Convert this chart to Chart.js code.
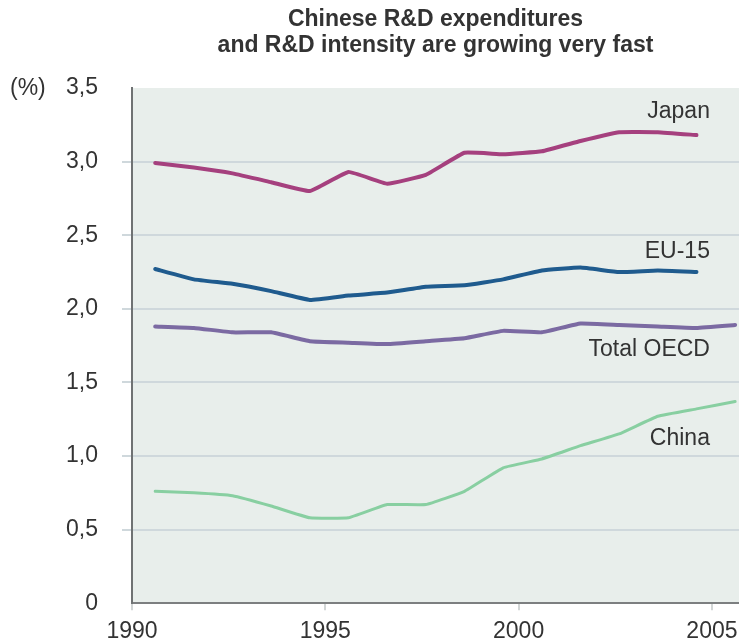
<!DOCTYPE html>
<html>
<head>
<meta charset="utf-8">
<script src="https://cdn.jsdelivr.net/npm/chart.js@4/dist/chart.umd.min.js"></script>
<style>
  html, body { margin: 0; padding: 0; background: #fff; }
  #wrap { width: 739px; height: 641px; }
</style>
</head>
<body>
<div id="wrap"><canvas id="rdChart"></canvas></div>
<script>
// R&D intensity, % of GDP
const years = [1990, 1991, 1992, 1993, 1994, 1995, 1996, 1997, 1998, 1999, 2000, 2001, 2002, 2003, 2004, 2005];
const japan = [2.99, 2.96, 2.92, 2.86, 2.80, 2.93, 2.85, 2.91, 3.06, 3.05, 3.07, 3.14, 3.20, 3.20, 3.18];
const eu15  = [2.27, 2.20, 2.17, 2.12, 2.06, 2.09, 2.11, 2.15, 2.16, 2.20, 2.26, 2.28, 2.25, 2.26, 2.25];
const oecd  = [1.88, 1.87, 1.84, 1.84, 1.78, 1.77, 1.76, 1.78, 1.80, 1.85, 1.84, 1.90, 1.89, 1.88, 1.87, 1.89];
const china = [0.76, 0.75, 0.73, 0.66, 0.58, 0.58, 0.67, 0.67, 0.76, 0.92, 0.98, 1.07, 1.15, 1.27, 1.32, 1.37];
const yTicks = [0, 0.5, 1.0, 1.5, 2.0, 2.5, 3.0, 3.5];
const xTicks = [1990, 1995, 2000, 2005];

// yearly values sit a bit right of their year tick
const POINT_SHIFT = 0.6;
function toPoints(values) {
  return values.map((v, i) => ({ x: years[i] + POINT_SHIFT, y: v }));
}

const FONT = "'Liberation Sans', Arial, sans-serif";
const TEXT = "#333333";

// line name tags, right-aligned at the 2005 tick
const seriesTags = [
  { text: "Japan", y: 3.34 },
  { text: "EU-15", y: 2.39 },
  { text: "Total OECD", y: 1.72 },
  { text: "China", y: 1.115 }
];

const plotBackground = {
  id: "plotBackground",
  beforeDraw(chart) {
    const { ctx, chartArea: a } = chart;
    ctx.save();
    ctx.fillStyle = "#e8eeeb";
    ctx.fillRect(a.left, a.top, a.right - a.left, a.bottom - a.top);
    ctx.restore();
  }
};

const textExtras = {
  id: "textExtras",
  afterDraw(chart) {
    const { ctx, scales } = chart;
    ctx.save();
    ctx.fillStyle = TEXT;
    ctx.font = "23px " + FONT;
    ctx.textBaseline = "middle";
    ctx.textAlign = "left";
    ctx.fillText("(%)", 10, scales.y.getPixelForValue(3.5) + 1);
    ctx.textAlign = "right";
    const xr = scales.x.getPixelForValue(2005) - 2;
    seriesTags.forEach(t => {
      ctx.fillText(t.text, xr, scales.y.getPixelForValue(t.y));
    });
    ctx.restore();
  }
};

function line(label, values, color, width) {
  return {
    label: label,
    data: toPoints(values),
    borderColor: color,
    borderWidth: width,
    pointRadius: 0,
    tension: 0.1,
    borderCapStyle: "round",
    borderJoinStyle: "round",
    fill: false
  };
}

new Chart(document.getElementById("rdChart"), {
  type: "line",
  data: {
    datasets: [
      line("Japan", japan, "#a5407e", 4),
      line("EU-15", eu15, "#1f5b8e", 4),
      line("Total OECD", oecd, "#7b6aa2", 4),
      line("China", china, "#88cfa1", 3)
    ]
  },
  options: {
    responsive: true,
    maintainAspectRatio: false,
    animation: false,
    layout: { padding: 0 },
    plugins: {
      legend: { display: false },
      tooltip: { enabled: false },
      title: {
        display: true,
        fullSize: false,
        text: ["Chinese R&D expenditures", "and R&D intensity are growing very fast"],
        color: TEXT,
        font: { family: FONT, size: 23, weight: "bold", lineHeight: 1.13 },
        padding: { top: 7, bottom: 29 }
      }
    },
    scales: {
      x: {
        type: "linear",
        min: 1990,
        max: 2005.7,
        afterBuildTicks(scale) {
          scale.ticks = xTicks.map(v => ({ value: v }));
        },
        afterFit(scale) {
          scale.height = 35;
          scale.paddingLeft = 0;
          scale.paddingRight = 0;
        },
        ticks: {
          color: TEXT,
          font: { family: FONT, size: 23 },
          padding: 8,
          maxRotation: 0,
          callback: v => String(v)
        },
        grid: {
          drawOnChartArea: false,
          drawTicks: true,
          tickLength: 7,
          color: "#d2d6d6",
          lineWidth: 2
        },
        border: { display: true, color: "#7c7f80", width: 2 }
      },
      y: {
        min: 0,
        max: 3.5,
        afterBuildTicks(scale) {
          scale.ticks = yTicks.map(v => ({ value: v }));
        },
        afterFit(scale) { scale.width = 132; },
        ticks: {
          color: TEXT,
          font: { family: FONT, size: 23 },
          padding: 24,
          callback: v => (v === 0 ? "0" : v.toFixed(1).replace(".", ","))
        },
        grid: {
          drawTicks: true,
          tickLength: 10,
          lineWidth: 2,
          color: ctx => (ctx.tick && (ctx.tick.value === 3.5 || ctx.tick.value === 0) ? "rgba(0,0,0,0)" : "#cfd8dc")
        },
        border: { display: true, color: "#6f7273", width: 2 }
      }
    }
  },
  plugins: [plotBackground, textExtras]
});
</script>
</body>
</html>
